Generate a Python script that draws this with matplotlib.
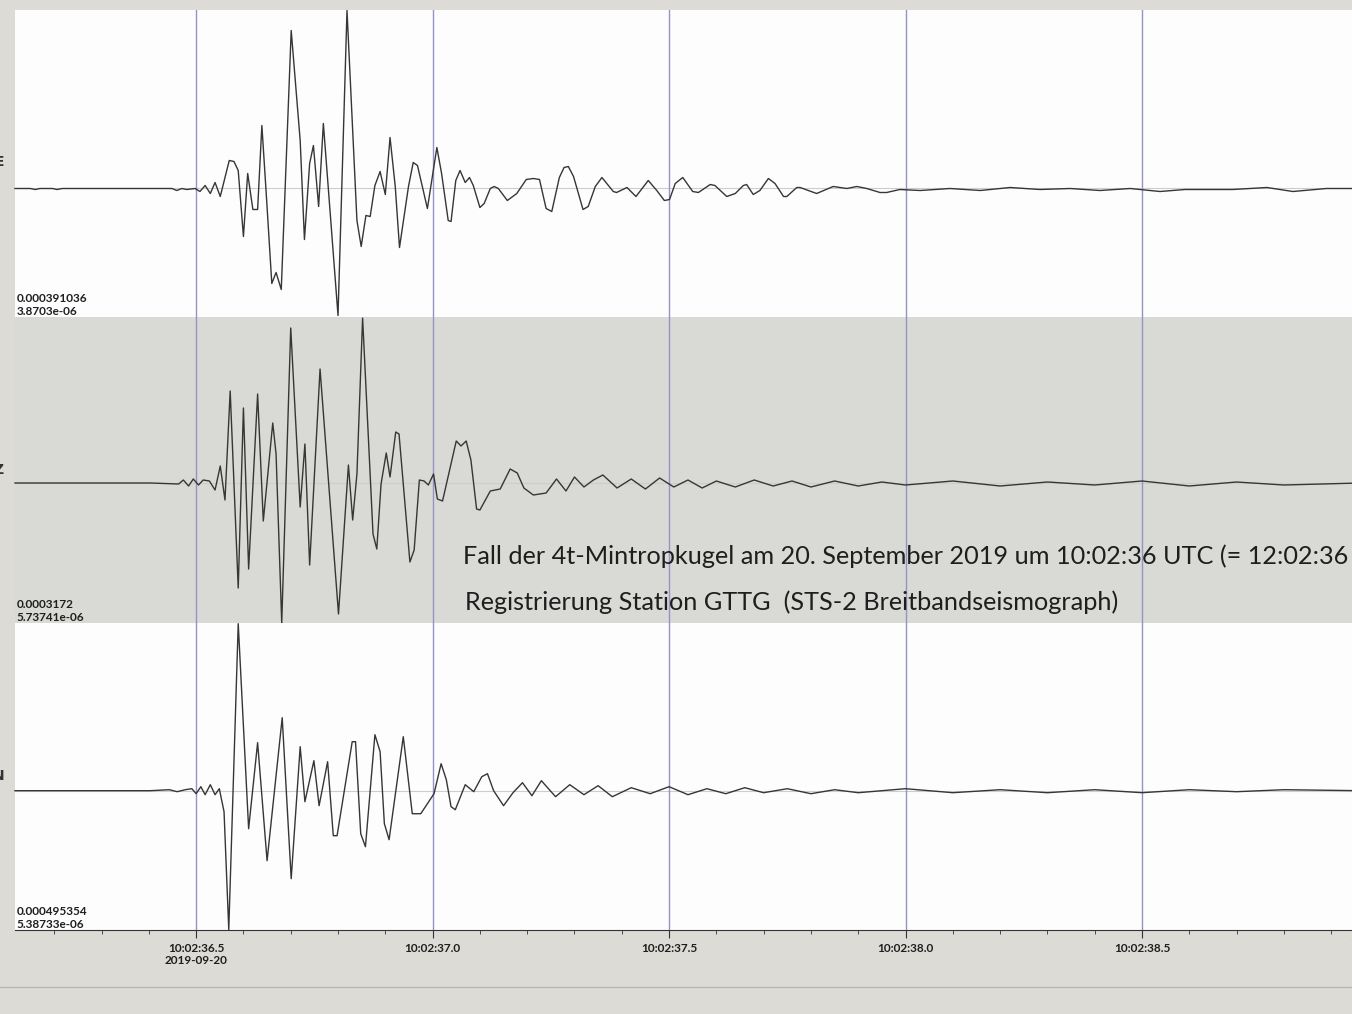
import matplotlib.pyplot as plt
from matplotlib.lines import Line2D
from matplotlib.ticker import MultipleLocator, FixedLocator

# Zeit in Sekunden nach 10:02:36 UTC, Ausschlag in Bildeinheiten
e_t = [0.117, 0.149, 0.160, 0.170, 0.196, 0.206, 0.217, 0.403, 0.449, 0.459, 0.470, 0.480,
       0.498, 0.508, 0.519, 0.530, 0.540, 0.551, 0.570, 0.580, 0.589, 0.600, 0.609, 0.620,
       0.630, 0.639, 0.649, 0.660, 0.669, 0.680, 0.701, 0.720, 0.729, 0.740, 0.748, 0.759,
       0.769, 0.800, 0.819, 0.840, 0.849, 0.859, 0.868, 0.878, 0.889, 0.900, 0.910, 0.921,
       0.930, 0.949, 0.959, 0.968, 0.989, 1.009, 1.019, 1.033, 1.039, 1.049, 1.058, 1.069,
       1.078, 1.086, 1.100, 1.109, 1.122, 1.130, 1.139, 1.158, 1.178, 1.198, 1.213, 1.226,
       1.240, 1.252, 1.268, 1.278, 1.287, 1.298, 1.318, 1.329, 1.344, 1.358, 1.382, 1.389,
       1.411, 1.430, 1.456, 1.474, 1.490, 1.501, 1.513, 1.529, 1.550, 1.562, 1.587, 1.597,
       1.622, 1.640, 1.657, 1.664, 1.678, 1.692, 1.710, 1.724, 1.742, 1.749, 1.770, 1.777,
       1.812, 1.847, 1.876, 1.897, 1.918, 1.946, 1.960, 1.988, 2.031, 2.094, 2.158, 2.221,
       2.284, 2.348, 2.411, 2.475, 2.538, 2.591, 2.623, 2.692, 2.764, 2.819, 2.890, 2.961]
e_amp = [0, 0, -1, 0, 0, -1, 0, 0, 0, -2, 0, -1,
         0, -3, 3, -5, 6, -8, 28, 27, 18, -48, 15, -21,
         -21, 63, -11, -95, -84, -101, 158, 48, -51, 25, 43, -18,
         65, -127, 178, -32, -58, -27, -28, 3, 17, -6, 51, 2,
         -59, 2, 26, 23, -20, 41, 15, -32, -33, 8, 18, 6,
         11, 3, -19, -15, 0, 2, 0, -12, -5, 9, 10, 9,
         -20, -23, 11, 21, 22, 12, -21, -18, 2, 11, -3, -4,
         1, -8, 8, -2, -12, -11, 5, 11, -3, -4, 4, 3,
         -8, -5, 3, 4, -6, -2, 10, 5, -8, -8, 1, 1,
         -5, 2, 0, 2, 0, -4, -4, -1, -2, 0, -2, 1,
         -1, 0, -2, 0, -3, -1, -1, -1, 1, -3, 0, 0]

z_t = [0.117, 0.403, 0.463, 0.473, 0.484, 0.494, 0.505, 0.515, 0.528, 0.540, 0.551, 0.561,
       0.572, 0.589, 0.600, 0.611, 0.630, 0.642, 0.662, 0.669, 0.681, 0.700, 0.720, 0.730,
       0.740, 0.762, 0.801, 0.822, 0.831, 0.840, 0.852, 0.874, 0.882, 0.891, 0.902, 0.910,
       0.922, 0.929, 0.952, 0.961, 0.972, 0.982, 0.991, 1.002, 1.010, 1.021, 1.050, 1.060,
       1.071, 1.081, 1.093, 1.100, 1.122, 1.143, 1.164, 1.179, 1.193, 1.213, 1.240, 1.262,
       1.282, 1.300, 1.320, 1.340, 1.360, 1.390, 1.420, 1.450, 1.480, 1.510, 1.540, 1.570,
       1.600, 1.640, 1.680, 1.720, 1.760, 1.800, 1.850, 1.900, 1.950, 2.000, 2.100, 2.200,
       2.300, 2.400, 2.500, 2.600, 2.700, 2.800, 2.961]
z_amp = [0, 0, -1, 3, -3, 4, -2, 3, 2, -7, 17, -17,
         92, -105, 75, -86, 89, -38, 60, 29, -140, 155, -24, 39,
         -82, 114, -131, 18, -37, 9, 165, -51, -66, -1, 30, 6,
         51, 49, -79, -67, 3, 2, -2, 9, -16, -18, 42, 37,
         42, 23, -26, -27, -8, -6, 14, 10, -5, -12, -10, 4,
         -8, 6, -4, 3, 8, -5, 4, -6, 5, -4, 3, -5,
         2, -4, 3, -3, 2, -4, 2, -3, 1, -2, 2, -3,
         1, -2, 2, -3, 1, -2, 0]

n_t = [0.117, 0.403, 0.443, 0.460, 0.477, 0.491, 0.500, 0.510, 0.519, 0.530, 0.540, 0.549,
       0.559, 0.569, 0.589, 0.611, 0.630, 0.650, 0.682, 0.701, 0.720, 0.730, 0.749, 0.760,
       0.778, 0.790, 0.798, 0.830, 0.837, 0.848, 0.858, 0.878, 0.889, 0.898, 0.908, 0.938,
       0.957, 0.975, 1.003, 1.018, 1.029, 1.039, 1.048, 1.069, 1.087, 1.104, 1.116, 1.129,
       1.150, 1.170, 1.190, 1.210, 1.230, 1.260, 1.290, 1.320, 1.350, 1.380, 1.420, 1.460,
       1.500, 1.540, 1.580, 1.620, 1.660, 1.700, 1.750, 1.800, 1.850, 1.900, 2.000, 2.100,
       2.200, 2.300, 2.400, 2.500, 2.600, 2.700, 2.800, 2.961]
n_amp = [0, 0, 1, -1, 1, 2, -3, 4, -4, 6, -4, 2,
         -21, -139, 167, -38, 48, -70, 73, -88, 44, -11, 30, -15,
         29, -45, -45, 49, 49, -43, -56, 56, 39, -33, -49, 54,
         -23, -23, -3, 27, 11, -16, -19, 6, -1, 14, 17, 0,
         -15, -2, 8, -5, 10, -6, 6, -4, 5, -6, 3, -3,
         4, -4, 2, -3, 3, -2, 2, -3, 1, -2, 2, -2,
         1, -2, 1, -2, 1, -1, 1, 0]

traces = [(e_t, e_amp), (z_t, z_amp), (n_t, n_amp)]
channel_names = ['E', 'Z', 'N']
scale_top = ['0.000391036', '0.0003172', '0.000495354']
scale_bottom = ['3.8703e-06', '5.73741e-06', '5.38733e-06']
panel_colors = ['#fdfdfd', '#d9d9d6', '#fdfdfd']
# untere / obere Grenze jeder Spur
panel_ylims = [(-128.5, 178.5), (-140, 166), (-139.3, 167.7)]

tick_secs = [0.5, 1.0, 1.5, 2.0, 2.5]
tick_labels = ['10:02:36.5\n2019-09-20', '10:02:37.0', '10:02:37.5', '10:02:38.0', '10:02:38.5']
x_min, x_max = 0.117, 2.944

W, H = 1352, 1014
fig = plt.figure(figsize=(W / 100, H / 100), dpi=100, facecolor='#dcdbd6')

small = dict(fontsize=8.5, family=['Lato', 'DejaVu Sans'], weight='bold', color='#1f1f1f')

def box(x0, y0, x1, y1):
    return [x0 / W, 1 - y1 / H, (x1 - x0) / W, (y1 - y0) / H]

panel_px = [(10, 317), (317, 623), (623, 930)]
axes = []
for i, (y0, y1) in enumerate(panel_px):
    ax = fig.add_axes(box(15, y0, W, y1))
    ax.set_facecolor(panel_colors[i])
    t, a = traces[i]
    ax.axhline(0, color='#cdcdcd', lw=0.8, zorder=1)
    for s in tick_secs:
        ax.axvline(s, color='#9294c6', lw=1, zorder=2)
    ax.plot(t, a, color='#363636', lw=1.0, zorder=3, clip_on=False)
    ax.set_xlim(x_min, x_max)
    ax.set_ylim(*panel_ylims[i])
    ax.set_yticks([])
    for sp in ax.spines.values():
        sp.set_visible(False)
    ax.text(0.001, 0.043, scale_top[i], transform=ax.transAxes, va='bottom', **small)
    ax.text(0.001, 0.001, scale_bottom[i], transform=ax.transAxes, va='bottom', **small)
    axes.append(ax)

# Kanal-Bezeichnungen links (im Original abgeschnitten)
for name, yy in zip(channel_names, [162, 470, 776]):
    fig.text(4 / W, 1 - yy / H, name, fontsize=10, weight='bold', color='#333333',
             ha='right', va='center')

for ax in axes[:2]:
    ax.set_xticks([])

ax = axes[2]
ax.spines['bottom'].set_visible(True)
ax.spines['bottom'].set_color('#333333')
ax.xaxis.set_major_locator(FixedLocator(tick_secs))
ax.xaxis.set_minor_locator(MultipleLocator(0.1))
ax.set_xticklabels(tick_labels, **small)
ax.tick_params(axis='x', which='major', direction='out', length=6, color='#333333', pad=3)
ax.tick_params(axis='x', which='minor', direction='out', length=3, color='#333333')

# letzte Beschriftung, im Original am Rand abgeschnitten
fig.text(1378 / W, 1 - 943 / H, '10:02:39.0', ha='center', va='center', **small)

fig.add_artist(Line2D([0, 1], [1 - 987 / H] * 2, transform=fig.transFigure,
                      color='#b8b8b2', lw=1))

title_font = dict(fontsize=18.2, family=['Lato', 'DejaVu Sans'], color='#1e1e1e',
                  va='center', ha='left')
fig.text(463 / W, 1 - 556 / H,
         'Fall der 4t-Mintropkugel am 20. September 2019 um 10:02:36 UTC (= 12:02:36 MESZ)',
         **title_font)
fig.text(465 / W, 1 - 602 / H,
         'Registrierung Station GTTG  (STS-2 Breitbandseismograph)', **title_font)

fig.savefig('out.png', dpi=100, facecolor=fig.get_facecolor())
